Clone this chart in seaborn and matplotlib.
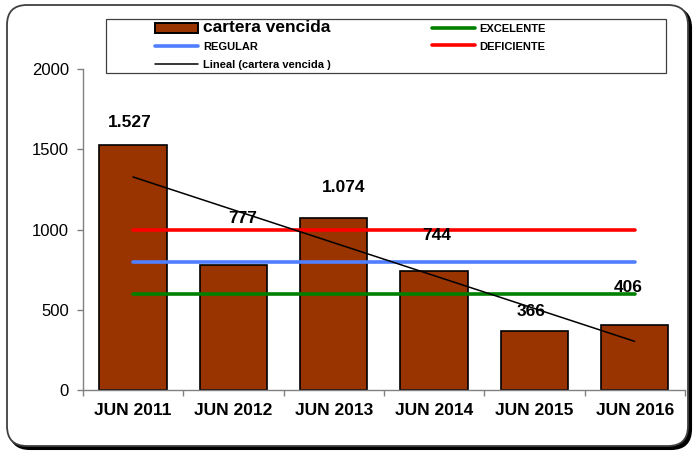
import numpy as np
import matplotlib
matplotlib.use("Agg")
import matplotlib.pyplot as plt
import seaborn as sns
from matplotlib.patches import FancyBboxPatch, Rectangle, Patch
from matplotlib.lines import Line2D
from matplotlib.transforms import IdentityTransform

# datos
periodos = ['JUN 2011', 'JUN 2012', 'JUN 2013', 'JUN 2014', 'JUN 2015', 'JUN 2016']
cartera_vencida = [1527, 777, 1074, 744, 366, 406]
etiquetas = ['1.527', '777', '1.074', '744', '366', '406']
excelente = [600, 600, 600, 600, 600, 600]
regular = [800, 800, 800, 800, 800, 800]
deficiente = [1000, 1000, 1000, 1000, 1000, 1000]

sns.set_style("white")
plt.rcParams['font.family'] = ['Liberation Sans', 'DejaVu Sans']
plt.rcParams['text.color'] = 'black'
plt.rcParams['xtick.color'] = 'black'
plt.rcParams['ytick.color'] = 'black'

fig = plt.figure(figsize=(6.96, 4.51), dpi=100)

# marco redondeado con sombra (px)
sombra = FancyBboxPatch((10, 2), 681, 441, boxstyle="round,pad=0,rounding_size=20",
                        transform=IdentityTransform(), facecolor='black', edgecolor='black',
                        lw=1.5, zorder=-3)
marco = FancyBboxPatch((7, 5), 681, 441, boxstyle="round,pad=0,rounding_size=20",
                       transform=IdentityTransform(), facecolor='white', edgecolor='#404040',
                       lw=1.3, zorder=-2)
fig.patches.extend([sombra, marco])

ax = fig.add_axes([0.119, 0.135, 0.865, 0.712])
ax.set_facecolor('none')

x = np.arange(len(periodos))
sns.barplot(x=periodos, y=cartera_vencida, color='#993300', edgecolor='black',
            linewidth=1.2, width=0.67, saturation=1, ax=ax, zorder=2)

ax.plot(x, excelente, color='#008000', lw=2.6, zorder=3)
ax.plot(x, regular, color='#4F7FFF', lw=2.6, zorder=3)
ax.plot(x, deficiente, color='#FF0000', lw=2.6, zorder=3)

# linea de tendencia lineal
m, b = np.polyfit(x, cartera_vencida, 1)
ax.plot(x[[0, -1]], m * x[[0, -1]] + b, color='black', lw=1.1, zorder=4)

# etiquetas de datos (desplazamiento en px, como en el original)
despl = [(-3, 22), (9, 47), (10, 30), (3, 35), (-3, 20), (-7, 37)]
for i, (v, t) in enumerate(zip(cartera_vencida, etiquetas)):
    ax.annotate(t, (i, v), xytext=(despl[i][0] * 0.72, despl[i][1] * 0.72),
                textcoords='offset points', ha='center', va='center',
                fontsize=12.5, fontweight='bold', zorder=5)

ax.set_xlim(-0.5, 5.5)
ax.set_ylim(0, 2000)
ax.set_yticks([0, 500, 1000, 1500, 2000])
ax.tick_params(axis='y', labelsize=12, length=4, width=1, color='#808080', direction='out', left=True, pad=6)
ax.set_xticks(x)
ax.set_xticklabels(periodos, fontsize=12.5, fontweight='bold')
ax.set_xticks(np.arange(-0.5, 6, 1), minor=True)
ax.tick_params(axis='x', which='major', length=0, pad=9)
ax.tick_params(axis='x', which='minor', length=4, width=1, color='#808080', direction='out', bottom=True)
for s in ['top', 'right']:
    ax.spines[s].set_visible(False)
for s in ['left', 'bottom']:
    ax.spines[s].set_color('#808080')
    ax.spines[s].set_linewidth(1)
ax.set_xlabel('')
ax.set_ylabel('')

# leyenda
handles = [
    Patch(facecolor='#993300', edgecolor='black', lw=1.4),
    Line2D([], [], color='#4F7FFF', lw=2.6),
    Line2D([], [], color='black', lw=1.1),
    Line2D([], [], color='#008000', lw=2.6),
    Line2D([], [], color='#FF0000', lw=2.6),
]
nombres = ['cartera vencida', 'REGULAR', 'Lineal (cartera vencida )', 'EXCELENTE', 'DEFICIENTE']
fig.patches.append(Rectangle((106 / 696, 1 - 73 / 451), 560 / 696, 54 / 451,
                             transform=fig.transFigure, facecolor='white', edgecolor='#404040', lw=0.9))
leg = fig.legend(handles, nombres, ncol=2, loc='upper left', bbox_to_anchor=(155 / 696, 1 - 20 / 451),
                 frameon=False, prop={'weight': 'bold', 'size': 8},
                 handlelength=3.9, handleheight=0.95, handletextpad=0.4,
                 labelspacing=0.62, columnspacing=9.1, borderpad=0, borderaxespad=0)
leg.get_texts()[0].set_fontsize(12.5)

fig.savefig('out.png', dpi=100)
